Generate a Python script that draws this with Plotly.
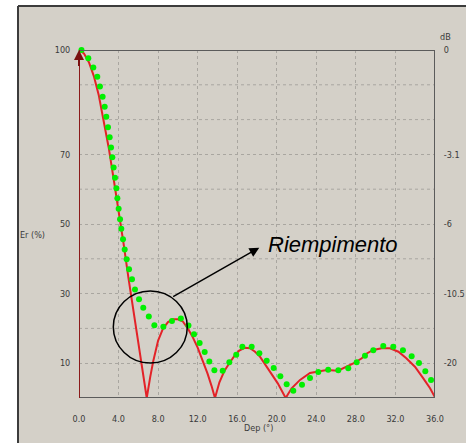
import plotly.graph_objects as go

# Measured pattern (solid red) — angle in degrees, relative level in %
meas_x = [0, 0.5, 1.0, 1.5, 2.0, 2.5, 3.0, 3.5, 4.0, 4.5, 5.0, 5.5, 6.0, 6.5, 6.85,
          7.2, 7.5, 8.0, 8.5, 9.0, 9.5, 10.0, 10.5, 11.0, 11.5, 12.0, 12.5, 13.0, 13.4, 13.75,
          14.2, 14.7, 15.2, 15.7, 16.2, 16.8, 17.3, 17.8, 18.3, 18.9, 19.5, 20.1, 20.9,
          21.5, 22.35, 23.36, 24.2, 25.05, 26.2, 27.07, 27.9, 28.6, 29.1, 29.76, 30.6,
          31.45, 32.3, 33.1, 33.97, 34.8, 35.5, 36.0]
meas_y = [100, 99, 96.5, 92.5, 87, 80, 72, 63, 54, 44.5, 34.5, 25, 15.5, 6.5, 0,
          6, 10.5, 16.5, 20, 21.8, 22.6, 22.6, 22, 20, 17.5, 14.5, 11, 7, 3.5, 0,
          4.5, 7.8, 10, 12, 13.6, 14.45, 14.3, 13.3, 11.9, 9.4, 6.8, 4.2, 0,
          2.8, 5.2, 7.2, 7.6, 8.05, 7.85, 9.0, 10.15, 11.4, 12.8, 13.8, 14.3,
          14.3, 13.3, 11.4, 9.0, 5.7, 2.8, 0.2]

# Filled pattern (green dots)
fill_x = [0.25, 0.94, 1.45, 1.85, 2.12, 2.39, 2.6, 2.76, 2.93, 3.1, 3.24, 3.37, 3.5,
          3.64, 3.78, 3.88, 4.01, 4.15, 4.28, 4.45, 4.62, 4.82, 5.06, 5.36, 5.66, 6.07,
          6.5, 7.06, 7.62, 8.53, 9.4, 10.3, 11.07, 11.63, 12.2, 12.71, 13.18, 13.69,
          14.53, 15.2, 15.9, 16.52, 17.46, 18.24, 18.98, 19.69, 20.36, 21.0, 21.67,
          22.55, 23.36, 24.2, 25.2, 26.22, 27.23, 28.08, 28.92, 29.76, 30.77, 31.78,
          32.76, 33.64, 34.38, 35.02, 35.6, 36.17]
fill_y = [100, 97.6, 95.0, 92.3, 89.5, 86.6, 83.7, 80.8, 77.8, 74.9, 72.0, 69.2, 66.2,
          63.3, 60.3, 57.4, 54.4, 51.4, 48.6, 45.6, 42.7, 39.9, 37.0, 34.1, 31.2, 28.4,
          25.9, 23.4, 20.9, 20.5, 22.1, 22.85, 20.8, 18.3, 15.8, 13.2, 10.5, 7.95,
          7.85, 10.25, 12.4, 14.75, 14.75, 12.84, 10.73, 8.62, 6.23, 3.93, 2.11,
          3.83, 5.75, 7.47, 8.14, 7.95, 8.52, 10.25, 12.17, 13.7, 14.94, 14.75,
          13.7, 11.97, 10.06, 7.66, 5.17, 2.78]

x_ticks = [0, 4, 8, 12, 16, 20, 24, 28, 32, 36]
x_labels = ["0.0", "4.0", "8.0", "12.0", "16.0", "20.0", "24.0", "28.0", "32.0", "36.0"]
pct_ticks = [100, 70, 50, 30, 10]
pct_labels = ["100", "70", "50", "30", "10"]
db_labels = ["0", "-3.1", "-6", "-10.5", "-20"]

W, H = 466, 443
ML, MR, MT, MB = 79, 31, 50, 45
PW, PH = W - ML - MR, H - MT - MB


def px_to_paper(px, py):
    return (px - ML) / PW, (H - MB - py) / PH


PANEL = "#d4d0c8"
TICKFONT = dict(family="Liberation Sans Narrow, DejaVu Sans Condensed, Arial Narrow, sans-serif",
                size=9, color="#3a3a3a")

fig = go.Figure()

fig.add_trace(go.Scatter(x=meas_x, y=meas_y, mode="lines",
                         line=dict(color="#e32228", width=2),
                         showlegend=False, hoverinfo="skip"))
fig.add_trace(go.Scatter(x=fill_x, y=fill_y, mode="markers",
                         marker=dict(color="#00f000", size=6, line=dict(width=0)),
                         cliponaxis=False, showlegend=False, hoverinfo="skip"))
# invisible trace to carry the dB axis on the right
fig.add_trace(go.Scatter(x=[0], y=[100], yaxis="y2", mode="markers",
                         marker=dict(opacity=0), showlegend=False, hoverinfo="skip"))

grid = dict(showgrid=True, gridcolor="#a9a6a0", gridwidth=1, griddash="dot", zeroline=False)

fig.update_layout(
    width=W, height=H, autosize=False,
    margin=dict(l=ML, r=MR, t=MT, b=MB, autoexpand=False),
    paper_bgcolor=PANEL,
    plot_bgcolor="rgba(0,0,0,0)",
    xaxis=dict(range=[0, 36], tickvals=x_ticks, ticktext=x_labels, tickfont=TICKFONT,
               ticks="outside", ticklen=12, tickcolor="rgba(0,0,0,0)", automargin=False,
               showline=False, fixedrange=True, **grid),
    yaxis=dict(range=[0, 100], tickvals=pct_ticks, ticktext=pct_labels,
               tickfont=TICKFONT, ticks="outside", ticklen=6, tickcolor="rgba(0,0,0,0)",
               automargin=False, showline=False, fixedrange=True, **grid),
    yaxis2=dict(range=[0, 100], overlaying="y", side="right", tickvals=pct_ticks,
                ticktext=db_labels, tickfont=TICKFONT, ticks="outside", ticklen=6,
                tickcolor="rgba(0,0,0,0)", showgrid=False, zeroline=False, automargin=False,
                showline=False, fixedrange=True),
)

# horizontal grid at every 10 %
for v in range(10, 100, 10):
    if v not in pct_ticks:
        fig.add_shape(type="line", xref="x", yref="y", x0=0, x1=36, y0=v, y1=v,
                      line=dict(color="#a9a6a0", width=1, dash="dot"), layer="below")

# white margin strips to the left of and above the grey window, with its dark edges
lx, ty = px_to_paper(18, 6)
x_left, y_bottom = px_to_paper(0, H)
x_right, y_top = px_to_paper(W, 0)
fig.add_shape(type="rect", xref="paper", yref="paper", x0=x_left, x1=lx, y0=y_bottom, y1=y_top,
              fillcolor="white", line=dict(width=0), layer="below")
fig.add_shape(type="rect", xref="paper", yref="paper", x0=x_left, x1=x_right, y0=ty, y1=y_top,
              fillcolor="white", line=dict(width=0), layer="below")
fig.add_shape(type="line", xref="paper", yref="paper", x0=lx, x1=lx, y0=y_bottom, y1=ty,
              line=dict(color="#3c3c3c", width=2), layer="below")
fig.add_shape(type="line", xref="paper", yref="paper", x0=lx, x1=x_right, y0=ty, y1=ty,
              line=dict(color="#3c3c3c", width=2), layer="below")

# plot frame: grey top/right/bottom, dark-red left axis
frame = "#5b5b5b"
fig.add_shape(type="line", xref="x", yref="y", x0=0, x1=36, y0=100, y1=100,
              line=dict(color=frame, width=2))
fig.add_shape(type="line", xref="x", yref="y", x0=36, x1=36, y0=0, y1=100,
              line=dict(color=frame, width=2))
fig.add_shape(type="line", xref="x", yref="y", x0=0, x1=36, y0=0, y1=0,
              line=dict(color=frame, width=2))
fig.add_shape(type="line", xref="x", yref="y", x0=0, x1=0, y0=0, y1=100,
              line=dict(color="#8b1a1a", width=2))
fig.add_annotation(x=0, y=100, ax=0, ay=95, xref="x", yref="y", axref="x", ayref="y",
                   text="", showarrow=True, arrowhead=2, arrowsize=1, arrowwidth=2,
                   arrowcolor="#7a1010")

# highlighted region and its label
fig.add_shape(type="circle", xref="x", yref="y", x0=3.47, x1=10.95, y0=10.05, y1=30.75,
              line=dict(color="black", width=1.5))
fig.add_annotation(x=18.23, y=43.2, ax=9.37, ay=28.9, xref="x", yref="y",
                   axref="x", ayref="y", text="", showarrow=True, arrowhead=2,
                   arrowsize=1.3, arrowwidth=1.5, arrowcolor="black")
fig.add_annotation(x=18.91, y=44.0, xref="x", yref="y", text="<i>Riempimento</i>",
                   showarrow=False, xanchor="left", yanchor="middle",
                   font=dict(family="Liberation Sans, Arial, sans-serif", size=22, color="black"))


# axis titles
def label(px, py, text):
    ax_, ay_ = px_to_paper(px, py)
    fig.add_annotation(x=ax_, y=ay_, xref="paper", yref="paper", text=text,
                       showarrow=False, xanchor="center", yanchor="middle",
                       font=TICKFONT)


label(33, 235, "Er (%)")
label(258, 428, "Dep (°)")
label(445, 37, "dB")

fig.write_html("out.html", config={"responsive": False},
               default_width=f"{W}px", default_height=f"{H}px")
